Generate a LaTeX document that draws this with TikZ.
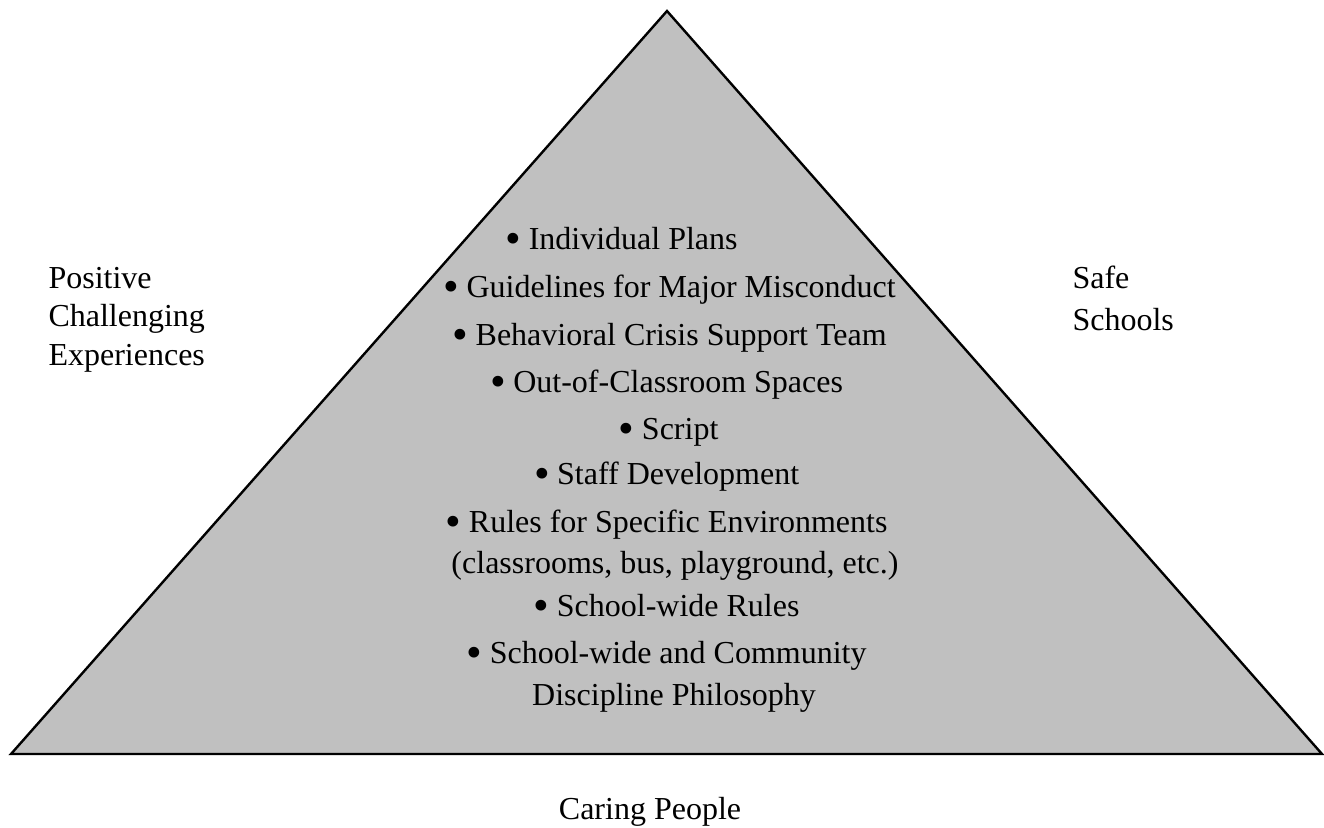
\documentclass[tikz,border=0pt]{standalone}
\usepackage{fontspec}
\setmainfont{Liberation Serif}
\usepackage{tikz}
\usetikzlibrary{positioning}
\definecolor{pyramid}{RGB}{192,192,192}
% a rounder, heavier bullet than the font's own
\newcommand{\blob}{\makebox[0.45em]{\raisebox{-0.15em}{\scalebox{1.4}{\textbullet}}}\ }

\begin{document}
\begin{tikzpicture}[x=0.375pt, y=-0.375pt, font=\fontsize{12}{14}\selectfont,
    entry/.style={anchor=base, inner sep=0pt},
    side/.style={anchor=base west, inner sep=0pt}]
  \useasboundingbox (0,0) rectangle (1324,827);

  % the pyramid
  \coordinate (apex) at (667,11);
  \coordinate (baseL) at (11,754);
  \coordinate (baseR) at (1322,754);
  \draw[line width=0.9pt, fill=pyramid] (baseL) -- (apex) -- (baseR) -- cycle;

  % layers, top to bottom
  \node[entry] (plans) at (622,249) {\blob Individual Plans};
  \node[entry] (major) at (670,297) {\blob Guidelines for Major Misconduct};
  \node[entry] (crisis) at (670,345) {\blob Behavioral Crisis Support Team};
  \node[entry] (spaces) at (667,392) {\blob Out-of-Classroom Spaces};
  \node[entry] (script) at (669,439) {\blob Script};
  \node[entry] (staff) at (667,484) {\blob Staff Development};
  \node[entry] (envrules) at (667,532) {\blob Rules for Specific Environments};
  \node[entry] (envlist) at (675,573) {(classrooms, bus, playground, etc.)};
  \node[entry] (swrules) at (667,616) {\blob School-wide Rules};
  \node[entry] (philo) at (667,663) {\blob School-wide and Community};
  \node[entry] (philo2) at (674,705) {Discipline Philosophy};

  % outside labels
  \node[side] (positive) at (48,288) {Positive};
  \node[side] (challenging) at (48,326) {Challenging};
  \node[side] (experiences) at (48,365) {Experiences};
  \node[side] (safe) at (1072,288) {Safe};
  \node[side] (schools) at (1072,330) {Schools};
  \node[entry] (caring) at (650,819) {Caring People};
\end{tikzpicture}
\end{document}
